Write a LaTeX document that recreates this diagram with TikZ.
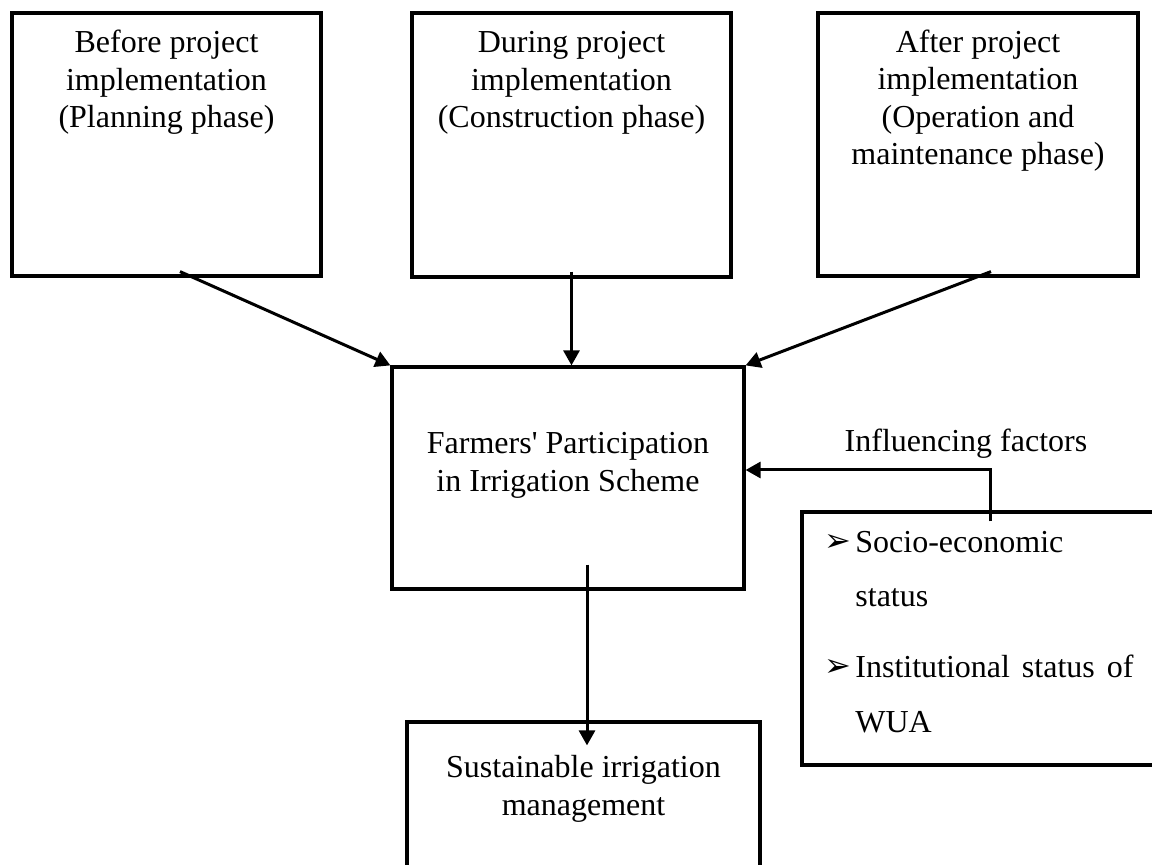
\documentclass[tikz,border=0pt]{standalone}
\usepackage{fontspec}
\setmainfont{Liberation Serif}[Ligatures=TeXOff]
\newfontfamily\dingfont{DejaVu Sans}
\usetikzlibrary{arrows.meta}
\begin{document}
\begin{tikzpicture}[x=0.5pt,y=-0.5pt,
  box/.style={draw, line width=1.6pt, inner sep=0pt},
  txt/.style={anchor=base, inner sep=0pt, font=\fontsize{16}{18.5}\selectfont},
  ltxt/.style={txt, anchor=base west},
  bullet/.style={ltxt, font=\dingfont\fontsize{16}{16}\selectfont},
  arr/.style={line width=1.5pt, -{Triangle[length=7.5pt,width=8pt]}}]
\useasboundingbox (0,0) rectangle (1152,865);
\clip (0,0) rectangle (1152,865);
% boxes
\node[box, minimum width=154.5pt, minimum height=131.5pt] (b1) at (166.5,144.5) {};
\node[box, minimum width=159.5pt, minimum height=132pt] (b2) at (571.5,145) {};
\node[box, minimum width=160pt, minimum height=131.5pt] (b3) at (978,144.5) {};
\node[box, minimum width=176pt, minimum height=111pt] (c) at (568,478) {};
\node[box, minimum width=176.5pt, minimum height=84pt] (s) at (583.5,806) {};
\node[box, minimum width=186.5pt, minimum height=126.5pt] (rb) at (988.5,638.5) {};
% texts box 1
\node[txt] (t1a) at (166.5,53) {Before project};
\node[txt] (t1b) at (166.5,91) {implementation};
\node[txt] (t1c) at (166.5,128) {(Planning phase)};
% box 2
\node[txt] (t2a) at (571.5,53) {During project};
\node[txt] (t2b) at (571.5,91) {implementation};
\node[txt] (t2c) at (571.5,128) {(Construction phase)};
% box 3
\node[txt] (t3a) at (978,53) {After project};
\node[txt] (t3b) at (978,90) {implementation};
\node[txt] (t3c) at (978,128) {(Operation and};
\node[txt] (t3d) at (978,165) {maintenance phase)};
% center
\node[txt] (tca) at (568,454) {Farmers' Participation};
\node[txt] (tcb) at (568,492) {in Irrigation Scheme};
% bottom
\node[txt] (tsa) at (583.5,778) {Sustainable irrigation};
\node[txt] (tsb) at (583.5,815) {management};
% influencing
\node[txt] (tinf) at (966,452) {Influencing factors};
\node[bullet] (bul1) at (824,552) {➢};
\node[ltxt] (r1) at (855,553) {Socio-economic};
\node[ltxt] (r2) at (855,607) {status};
\node[bullet] (bul2) at (824,677) {➢};
\node[ltxt] (r3) at (855,678) {\makebox[139pt][s]{Institutional status of}};
\node[ltxt] (r4) at (855,733) {WUA};
% connectors
\draw[arr] ([shift={(13.5,-6)}]b1.south) -- (c.north west);
\draw[arr] ([shift={(0,-7)}]b2.south) -- (b2.south |- c.north);
\draw[arr] ([shift={(13,-6)}]b3.south) -- (c.north east);
\draw[arr] ([shift={(19,-26)}]c.south) -- ([shift={(3.5,25)}]s.north);
\coordinate (bend) at (990,470);
\draw[arr] ([shift={(1.5,11)}]rb.north) -- (bend) -- (c.east |- bend);
\end{tikzpicture}
\end{document}
